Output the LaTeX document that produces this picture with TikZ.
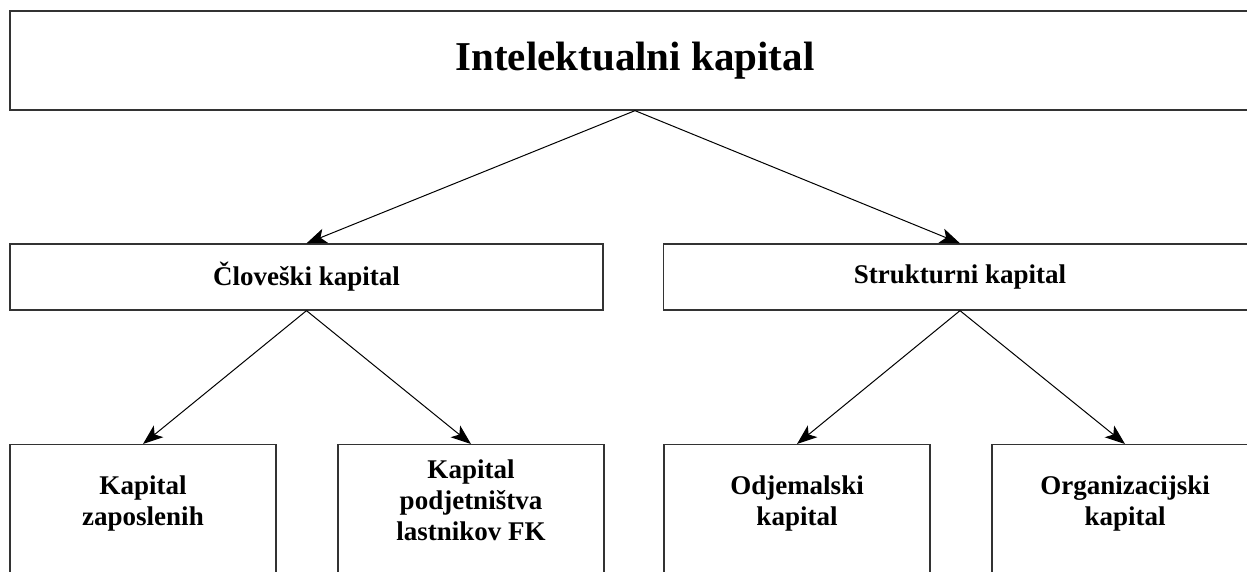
\documentclass[tikz,border=0pt]{standalone}
\usepackage{fontspec}
\setmainfont{Liberation Serif}
\usetikzlibrary{arrows.meta}
\tikzset{
  boxframe/.style={draw=black!80, line width=1.3pt, rectangle, inner sep=0pt, fill=white},
  titlebox/.style={boxframe, minimum width=1250pt, minimum height=99pt, font=\fontsize{41}{48}\selectfont\bfseries},
  midbox/.style={boxframe, minimum width=593pt, minimum height=66pt, font=\fontsize{27}{31}\selectfont\bfseries},
  leafbox/.style={boxframe, anchor=north, minimum width=266pt, minimum height=170pt},
  leaftext/.style={align=center, inner sep=0pt, font=\fontsize{27}{31}\selectfont\bfseries},
  link/.style={draw=black, line width=1pt, -{Stealth[length=20pt,width=15pt,inset=5pt]}}
}
\begin{document}
\begin{tikzpicture}[x=1pt,y=-1pt]
\path[use as bounding box] (0,0) rectangle (1247,572);
\clip (0,0) rectangle (1247,572);
\fill[white] (0,0) rectangle (1247,572);

\node[titlebox] (top) at (635,60.5) {Intelektualni kapital};
\node[midbox] (hc) at (306.5,277) {Človeški kapital};
\node[midbox] (sc) at (960,277) {Strukturni kapital};

\node[leafbox] (b1) at (143,444) {};
\node[leafbox] (b2) at (471,444) {};
\node[leafbox] (b3) at (797,444) {};
\node[leafbox] (b4) at (1125,444) {};

\node[leaftext] (t1) at (143,504) {Kapital\\zaposlenih};
\node[leaftext] (t2) at (471,500) {Kapital\\podjetništva\\lastnikov FK};
\node[leaftext] (t3) at (797,504) {Odjemalski\\kapital};
\node[leaftext] (t4) at (1125,504) {Organizacijski\\kapital};

\draw[link] (top.south) -- (hc.north);
\draw[link] (top.south) -- (sc.north);
\draw[link] (hc.south) -- (b1.north);
\draw[link] (hc.south) -- (b2.north);
\draw[link] (sc.south) -- (b3.north);
\draw[link] (sc.south) -- (b4.north);
\end{tikzpicture}
\end{document}
